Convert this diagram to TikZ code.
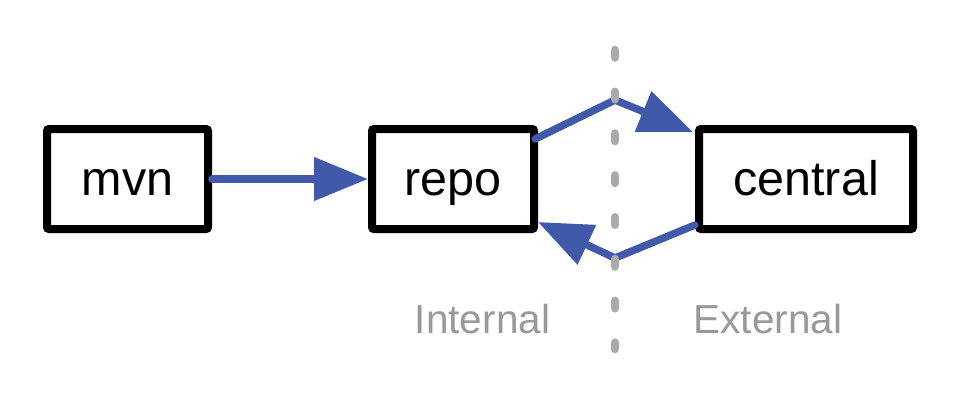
\documentclass[tikz,border=0pt]{standalone}
\usepackage{fontspec}
\setmainfont{Liberation Sans}
\usetikzlibrary{arrows.meta}
\definecolor{arrblue}{HTML}{4059A9}
\definecolor{lblgray}{HTML}{999999}
\definecolor{dashgray}{HTML}{AAAAAA}
\tikzset{
  box/.style={draw=black, line width=8pt, rounded corners=2pt, fill=white,
    minimum height=100pt, text height=34pt, text depth=2pt, inner sep=0pt,
    font=\fontsize{48.5}{50}\selectfont},
  arr/.style={draw=arrblue, line width=7.5pt, line cap=round, line join=round,
    -{Triangle[length=54pt,width=42pt]}},
  lbl/.style={text=lblgray, anchor=base, inner sep=0pt, font=\fontsize{40.5}{42}\selectfont},
  divider/.style={draw=dashgray, line width=8.5pt, line cap=round, dash pattern=on 7.5pt off 34.3pt}
}
\begin{document}
\begin{tikzpicture}[x=1pt,y=-1pt]
\useasboundingbox (0,0) rectangle (958,408);
\node[box, minimum width=161pt] (mvn) at (127.5,179) {mvn};
\node[box, minimum width=162pt] (repo) at (453,179) {repo};
\node[box, minimum width=214pt] (central) at (806,179) {central};
\coordinate (up) at (615,100);
\coordinate (down) at (615,258);
\coordinate (divtop) at (615,50);
\coordinate (divbot) at (615,349);
\draw[arr] (mvn.east) -- (repo.west);
\draw[arr] ([xshift=-3pt,yshift=-14pt]repo.north east) -- (up) -- ([xshift=-2pt,yshift=-7pt]central.north west);
\draw[arr] ([yshift=8pt]central.south west) -- (down) -- ([yshift=11pt]repo.south east);
\draw[divider] (divtop) -- (divbot);
\node[lbl] (internal) at (482.5,333) {Internal};
\node[lbl] (external) at (768,333) {External};
\end{tikzpicture}
\end{document}
